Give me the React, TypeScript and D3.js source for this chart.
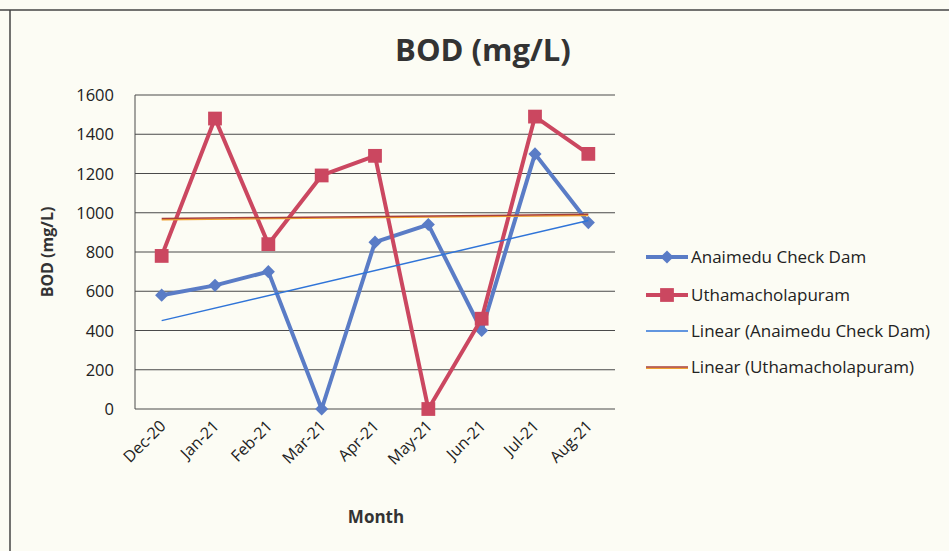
import React from "react";
import * as d3 from "d3";

const months = ["Dec-20", "Jan-21", "Feb-21", "Mar-21", "Apr-21", "May-21", "Jun-21", "Jul-21", "Aug-21"];
const anaimedu = [580, 630, 700, 0, 850, 940, 400, 1300, 950];
const uthama = [780, 1480, 840, 1190, 1290, 0, 460, 1490, 1300];
const yTicks = [0, 200, 400, 600, 800, 1000, 1200, 1400, 1600];
const legendNames = [
  "Anaimedu Check Dam",
  "Uthamacholapuram",
  "Linear (Anaimedu Check Dam)",
  "Linear (Uthamacholapuram)",
];

const W = 949;
const H = 551;
const font = "'Open Sans', 'DejaVu Sans', sans-serif";
const blue = "#5a7cc6";
const red = "#cb4760";

// least squares trend, like excel's "Linear" trendline
function trend(vals: number[]) {
  const xs = vals.map((_, i) => i);
  const mx = d3.mean(xs) as number;
  const my = d3.mean(vals) as number;
  const num = d3.sum(xs, (x, i) => (x - mx) * (vals[i] - my));
  const den = d3.sum(xs, (x) => (x - mx) * (x - mx));
  const b = num / den;
  const a = my - b * mx;
  return vals.map((_, i) => a + b * i);
}

export default function App() {
  const x = d3.scaleBand().domain(months).range([135, 615]);
  const y = d3.scaleLinear().domain([0, 1600]).range([409, 95]);
  const cx = (m: string) => (x(m) as number) + x.bandwidth() / 2;

  const line = d3
    .line<number>()
    .x((_, i) => cx(months[i]))
    .y((d) => y(d));

  const tA = trend(anaimedu);
  const tU = trend(uthama);
  const straight = (t: number[]) =>
    d3.line<number>().x((_, i) => (i === 0 ? cx(months[0]) : cx(months[months.length - 1]))).y((d) => y(d))([
      t[0],
      t[t.length - 1],
    ]);

  const diamond = d3.symbol().type(d3.symbolDiamond2).size(110)();
  const square = d3.symbol().type(d3.symbolSquare).size(190)();

  const legY = [257, 295, 331, 367];

  return (
    <svg width={W} height={H} style={{ position: "absolute", left: 0, top: 0, background: "#fcfcf4" }}>
      <rect x={0} y={0} width={W} height={H} fill="#fcfcf4" />
      {/* outer chart frame */}
      <line x1={0} x2={W} y1={10} y2={10} stroke="#444" strokeWidth={1.5} />
      <line x1={10} x2={10} y1={10} y2={H} stroke="#444" strokeWidth={1.5} />

      <text x={483} y={61} textAnchor="middle" fontFamily={font} fontWeight="bold" fontSize={31} fill="#333">
        BOD (mg/L)
      </text>

      {/* grid */}
      {yTicks.map((t) => (
        <g key={t}>
          <line x1={135} x2={615} y1={y(t)} y2={y(t)} stroke="#4a4a4a" strokeWidth={1} />
          <text x={114} y={y(t) + 6} textAnchor="end" fontFamily={font} fontSize={16.5} fill="#222">
            {t}
          </text>
        </g>
      ))}
      <line x1={135} x2={135} y1={95} y2={409} stroke="#4a4a4a" strokeWidth={1} />

      {months.map((m) => (
        <text
          key={m}
          transform={`translate(${cx(m) + 5},${427}) rotate(-45)`}
          textAnchor="end"
          fontFamily={font}
          fontSize={16}
          fill="#222"
        >
          {m}
        </text>
      ))}

      <text
        transform="translate(53,252) rotate(-90)"
        textAnchor="middle"
        fontFamily={font}
        fontWeight="bold"
        fontSize={16}
        fill="#333"
      >
        BOD (mg/L)
      </text>
      <text x={376} y={523} textAnchor="middle" fontFamily={font} fontWeight="bold" fontSize={17} fill="#333">
        Month
      </text>

      {/* series */}
      <path d={line(anaimedu) as string} fill="none" stroke={blue} strokeWidth={4} strokeLinejoin="round" />
      {anaimedu.map((v, i) => (
        <path key={i} d={diamond as string} transform={`translate(${cx(months[i])},${y(v)})`} fill={blue} />
      ))}
      <path d={line(uthama) as string} fill="none" stroke={red} strokeWidth={4} strokeLinejoin="round" />
      {uthama.map((v, i) => (
        <path key={i} d={square as string} transform={`translate(${cx(months[i])},${y(v)})`} fill={red} />
      ))}

      {/* trendlines */}
      <path d={straight(tA) as string} stroke="#2f74d8" strokeWidth={1.5} fill="none" />
      <path d={straight(tU) as string} transform="translate(0,1.2)" stroke="#f0a030" strokeWidth={1.5} fill="none" />
      <path d={straight(tU) as string} stroke="#a8403a" strokeWidth={1.5} fill="none" />

      {/* legend */}
      <g fontFamily={font} fontSize={17} fill="#222">
        <line x1={646} x2={688} y1={legY[0]} y2={legY[0]} stroke={blue} strokeWidth={4} />
        <path d={diamond as string} transform={`translate(667,${legY[0]})`} fill={blue} />
        <line x1={646} x2={688} y1={legY[1]} y2={legY[1]} stroke={red} strokeWidth={4} />
        <path d={square as string} transform={`translate(667,${legY[1]})`} fill={red} />
        <line x1={646} x2={688} y1={legY[2]} y2={legY[2]} stroke="#2f74d8" strokeWidth={1.5} />
        <line x1={646} x2={688} y1={legY[3] + 1.2} y2={legY[3] + 1.2} stroke="#f0a030" strokeWidth={1.5} />
        <line x1={646} x2={688} y1={legY[3]} y2={legY[3]} stroke="#a8403a" strokeWidth={1.5} />
        {legendNames.map((n, i) => (
          <text key={n} x={691} y={legY[i] + 6}>
            {n}
          </text>
        ))}
      </g>
    </svg>
  );
}
